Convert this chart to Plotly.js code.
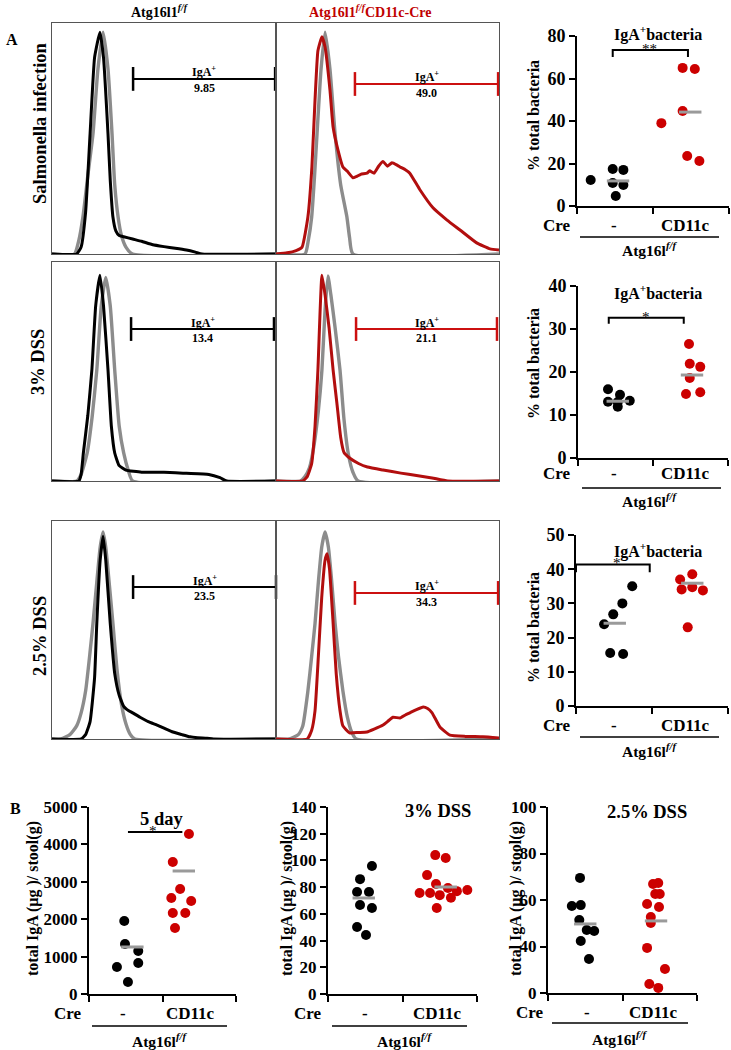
<!DOCTYPE html>
<html><head><meta charset="utf-8">
<script src="https://cdn.plot.ly/plotly-3.0.1.min.js"></script>
<style>html,body{margin:0;padding:0;background:#fff}#chart{width:731px;height:1050px}</style>
</head><body><div id="chart"></div>
<script>
// ---------- DATA: flow-cytometry histograms (x: fluorescence, 0-100; y: % of max) ----------
const salWtX = [0,11,13,15,17,19,21.4,23,25,26,27.2,28.5,30,32,36,40,45,50,55,60,64,67,100];
const salWtY = [0,0,3,18,52,85,96,85,52,32,16,10,8,7.5,6.5,5.5,4,3.2,2.5,1.7,0.8,0,0];
const salWtIsoX = [0,10,12,13.8,16,18.3,20.5,22.8,25,26.8,28,29.5,31,33,36,100];
const salWtIsoY = [0,0,6,16,34,52,80,96,80,52,30,16,8,3,0,0];
const salKoX = [0,5,9,11.7,14.3,16.1,17.5,18.8,20.6,22,24.2,25.6,27.8,30,31.8,34.5,36,38,40.8,42,44,46,48,50,52,54.3,56,58,60,64.6,70.4,76.7,82.5,90,96,100];
const salKoY = [0,0.5,1.5,3,16,37.7,66.7,88,94,89.6,71,55,45,37.7,36,33,33.5,34.5,35,36,35,38,40,38,39.5,38.5,37.5,36.5,35,27.7,20,14.7,10.4,4.8,2.2,1.7];
const salKoIsoX = [0,13,14.5,16,17.3,18.4,20.2,22,24.2,26.5,29,31.8,33,34.5,100];
const salKoIsoY = [0,0,6,16,34,52,80,96,80,52,30,16,7,0,0];

const dss3WtX = [0,12,13,14,16,17.8,19.5,21.4,23,25,26.5,28,30,33,40,50,60,70,75,78,100];
const dss3WtY = [0,0,3,12.8,30,50.7,80,94,80,50.7,25,12.8,7,5,4,4,3.5,3,1.5,0,0];
const dss3WtIsoX = [0,11,13,15.7,18,20,22,24,26,28,30,32,34,36,100];
const dss3WtIsoY = [0,0,3,12.8,30,50.7,80,93,80,50.7,25,12.8,5,0,0];
const dss3KoX = [0,12,14,16,17.5,18.8,20.6,22,23.8,25.6,27.3,29,30.5,33,37,41,48,56,63,70,77,100];
const dss3KoY = [0,0,2,8,25,50.7,94,85,70,50.7,35.6,20,13,10.5,8,6.4,5,3.6,2.5,1.4,0,0];
const dss3KoIsoX = [0,11,13,15,17,19,20.6,22,23.3,24.6,26.5,28.7,30.5,32.5,34.5,36.8,100];
const dss3KoIsoY = [0,0,2,6,16,32,50.7,78,93.6,85,70,50.7,28,12,4,0,0];

const dss25WtX = [0,13,15,17,19,20,21.5,22.8,24,26,28,30,32,33.5,36,39.3,43,46.9,50,54,58,61.6,65,69.2,72,100];
const dss25WtY = [0,0,2,8,28,53,82,93,82,53,30,20,15,13.5,12,10,8,6.4,5,3.2,2,1,0.6,0.4,0,0];
const dss25WtIsoX = [0,4,8,11,13,15,17,18.3,20,21.5,22.8,24,25.5,27.2,29,31,33,35,37,100];
const dss25WtIsoY = [0,0,2,6,12,22,40,53,72,88,95,88,72,53,32,16,7,2,0,0];
const dss25KoX = [0,14,16,17.5,19,20.5,22,22.9,24,25.5,27,28.7,30,33,37,40.8,44,48,50,52.5,55.6,58,60,63,66,68,70,73.5,78,85,92.8,100];
const dss25KoY = [0,0,4,13,38,65,82,85,78,55,30,13,6,2.8,3,3.2,4.5,6.4,8,10,9.6,11,12,13.5,14.7,14,12,5.5,1.8,1.2,1,0.5];
const dss25KoIsoX = [0,6,10,12,14.3,16,17.5,19,20.5,22,23.5,25,26.5,28,30,32,34,36,100];
const dss25KoIsoY = [0,0,2,6,22,38,53,72,88,95,88,72,53,38,22,10,3,0,0];

// IgA+ gates (fluorescence units) and gate percentages
const gateStart = [36.2, 35.4, 35.3, 35.9, 36.2, 35.4];
const gateEnd   = [99.6, 99.6, 99.1, 99.1, 100, 99.6];
const gateLevel = [75.8, 73.6, 69.4, 69.4, 69.7, 67];
const gateValues = ['9.85', '49.0', '13.4', '21.1', '23.5', '34.3'];

// ---------- DATA: % IgA+ bacteria ----------
const categories = ['-', 'CD11c'];
const salNeg = [12.2, 17.4, 17, 10.8, 9.9, 4.7];
const salNegJit = [-0.32, -0.03, 0.11, -0.03, 0.11, 0.01];
const salCre = [39, 65, 64.5, 44.7, 23.5, 21.2];
const salCreJit = [-0.39, -0.11, 0.05, -0.11, -0.05, 0.11];
const salMed = [11.8, 44.2];

const d3Neg = [16.0, 14.7, 13.1, 13.0, 13.3, 11.9];
const d3NegJit = [-0.1, 0.06, -0.1, 0.03, 0.19, 0.03];
const d3Cre = [26.5, 21.9, 21.2, 18.6, 14.9, 15.3];
const d3CreJit = [-0.02, -0.01, 0.13, -0.01, -0.06, 0.13];
const d3Med = [13.2, 19.3];

const d25Neg = [35, 30, 26.8, 23.9, 15.5, 15.2];
const d25NegJit = [0.24, 0.11, -0.01, -0.13, -0.05, 0.12];
const d25Cre = [37, 38.5, 34.1, 34.7, 33.8, 23];
const d25CreJit = [-0.13, 0.03, -0.11, 0.03, 0.17, -0.03];
const d25Med = [24.2, 35.9];

// ---------- DATA: total IgA (µg)/stool(g) ----------
const b5Neg = [1952, 1337, 1150, 722, 829, 321];
const b5NegJit = [-0.02, -0.01, 0.17, -0.12, 0.17, 0.03];
const b5Cre = [4278, 3529, 2807, 2567, 2487, 2166, 2166, 1765];
const b5CreJit = [-0.14, -0.36, -0.26, -0.38, -0.11, -0.36, -0.19, -0.33];
const b5Med = [1257, 3289];

const b3Neg = [95.8, 86, 76.4, 76.4, 66.6, 64.4, 50.2, 44.2];
const b3NegJit = [0.09, -0.07, -0.11, 0.05, -0.07, 0.09, -0.11, 0.01];
const b3Cre = [104, 101.8, 89, 82.4, 75.6, 75.6, 74, 77, 77.9, 72, 64.4, 79.4];
const b3CreJit = [-0.06, 0.08, -0.17, -0.05, -0.27, -0.13, 0, 0.23, 0.37, 0.15, -0.04, 0.11];
const b3Med = [71.9, 80.1];

// 2.5% DSS panel: the printed axis puts "0" one step below "40" (broken axis);
// values are kept on the printed grid where that lowest tick sits at 20.
const b25Neg = [69.5, 57.4, 57.8, 51.4, 47.1, 46.7, 42.4, 34.6];
const b25NegJit = [-0.07, -0.18, -0.06, -0.08, 0.02, 0.12, -0.06, 0.05];
const b25Cre = [67.3, 66.9, 62.6, 62.6, 58.3, 57, 52.7, 50.1, 39.4, 30.3, 23.9, 22.2];
const b25CreJit = [-0.02, -0.09, -0.06, 0, -0.17, -0.01, -0.12, -0.12, -0.17, 0.07, -0.14, -0.02];
const b25Med = [49.7, 51];
const b25TickVals = [20, 40, 60, 80, 100];
const b25TickText = ['0', '40', '60', '80', '100'];

// ---------- BUILD ----------
const W = 731, H = 1050;
const PX = v => v / W;
const PY = v => 1 - v / H;
const FONT = 'Liberation Serif, Times New Roman, serif';
const RED = '#cc0000', HRED = '#b20e0e', GRAY = '#8c8c8c';

const traces = [];
const layout = {
  width: W, height: H, autosize: false,
  margin: {l: 0, r: 0, t: 0, b: 0, pad: 0},
  paper_bgcolor: '#fff', plot_bgcolor: 'rgba(0,0,0,0)',
  showlegend: false, font: {family: FONT, color: '#000', size: 14},
  annotations: [], shapes: []
};
const aid = n => (n === 1 ? '' : String(n));

// histogram panels
const histPanels = [
  {n: 1, xd: [52, 276], yd: [23, 254], main: [salWtX, salWtY], iso: [salWtIsoX, salWtIsoY], col: '#000'},
  {n: 2, xd: [276, 499], yd: [23, 254], main: [salKoX, salKoY], iso: [salKoIsoX, salKoIsoY], col: HRED},
  {n: 3, xd: [52, 276], yd: [262, 481], main: [dss3WtX, dss3WtY], iso: [dss3WtIsoX, dss3WtIsoY], col: '#000'},
  {n: 4, xd: [276, 499], yd: [262, 481], main: [dss3KoX, dss3KoY], iso: [dss3KoIsoX, dss3KoIsoY], col: HRED},
  {n: 5, xd: [52, 276], yd: [521, 739], main: [dss25WtX, dss25WtY], iso: [dss25WtIsoX, dss25WtIsoY], col: '#000'},
  {n: 6, xd: [276, 499], yd: [521, 739], main: [dss25KoX, dss25KoY], iso: [dss25KoIsoX, dss25KoIsoY], col: HRED}
];
histPanels.forEach((p, i) => {
  const id = aid(p.n);
  layout['xaxis' + id] = {domain: [PX(p.xd[0]), PX(p.xd[1])], range: [0, 100], showline: true, mirror: true,
    linecolor: '#555', linewidth: 1, showticklabels: false, ticks: '', showgrid: false, zeroline: false, anchor: 'y' + id};
  layout['yaxis' + id] = {domain: [PY(p.yd[1]), PY(p.yd[0])], range: [0, 100], showline: true, mirror: true,
    linecolor: '#555', linewidth: 1, showticklabels: false, ticks: '', showgrid: false, zeroline: false, anchor: 'x' + id};
  traces.push({x: p.iso[0], y: p.iso[1], xaxis: 'x' + id, yaxis: 'y' + id, type: 'scatter', mode: 'lines',
    line: {color: GRAY, width: 3.4, shape: 'spline', smoothing: 0.5}, hoverinfo: 'skip'});
  traces.push({x: p.main[0], y: p.main[1], xaxis: 'x' + id, yaxis: 'y' + id, type: 'scatter', mode: 'lines',
    line: {color: p.col, width: 3, shape: 'spline', smoothing: 0.4}, hoverinfo: 'skip'});
  const gc = p.col === '#000' ? '#000' : '#cc1010';
  traces.push({x: [gateStart[i], gateEnd[i]], y: [gateLevel[i], gateLevel[i]], xaxis: 'x' + id, yaxis: 'y' + id,
    type: 'scatter', mode: 'lines+markers', cliponaxis: false, line: {color: gc, width: 2},
    marker: {symbol: 'line-ns', size: 17, color: gc, line: {color: gc, width: 2.5}}, hoverinfo: 'skip'});
  const midPx = p.xd[0] + (gateStart[i] + gateEnd[i]) / 2 / 100 * (p.xd[1] - p.xd[0]);
  const gyPx = p.yd[1] - gateLevel[i] / 100 * (p.yd[1] - p.yd[0]);
  layout.annotations.push({text: '<b>IgA<sup>+</sup></b>', x: PX(midPx), y: PY(gyPx - 7), xref: 'paper', yref: 'paper',
    showarrow: false, xanchor: 'center', yanchor: 'middle', font: {family: FONT, size: 12, color: '#000'}});
  layout.annotations.push({text: '<b>' + gateValues[i] + '</b>', x: PX(midPx), y: PY(gyPx + 9), xref: 'paper', yref: 'paper',
    showarrow: false, xanchor: 'center', yanchor: 'middle', font: {family: FONT, size: 12, color: '#000'}});
});

// dot plots
const dotPanels = [
  {n: 7, xd: [577, 729], yd: [36, 206], range: [0, 80], dtick: 20, neg: [salNeg, salNegJit], cre: [salCre, salCreJit], med: salMed, mo: [0.04, -0.01], tsize: 18,
   sig: {x0: -0.03, x1: 0.96, y: 73.4, d: 3.3, t: '**', tx: 0.46}},
  {n: 8, xd: [578, 728], yd: [286, 458], range: [0, 40], dtick: 10, neg: [d3Neg, d3NegJit], cre: [d3Cre, d3CreJit], med: d3Med, mo: [0.03, 0.02], tsize: 18,
   sig: {x0: -0.09, x1: 0.91, y: 32.6, d: 1.4, t: '*', tx: 0.41}},
  {n: 9, xd: [576, 728], yd: [535, 706], range: [0, 50], dtick: 10, neg: [d25Neg, d25NegJit], cre: [d25Cre, d25CreJit], med: d25Med, mo: [0.01, 0.03], tsize: 18,
   sig: {x0: -0.5, x1: 0.47, y: 41.4, d: 2.3, t: '*', tx: 0.04}},
  {n: 10, xd: [89, 236], yd: [807, 994], range: [0, 5000], dtick: 1000, neg: [b5Neg, b5NegJit], cre: [b5Cre, b5CreJit], med: b5Med, mo: [0.09, -0.21], tsize: 17,
   sig: {x0: 0.03, x1: 0.77, y: 4332, d: 0, t: '*', tx: 0.37}},
  {n: 11, xd: [328, 477], yd: [807, 994], range: [0, 140], dtick: 20, neg: [b3Neg, b3NegJit], cre: [b3Cre, b3CreJit], med: b3Med, mo: [-0.02, 0.08], tsize: 17},
  {n: 12, xd: [548, 697], yd: [807, 993], range: [20, 100], tickvals: b25TickVals, ticktext: b25TickText, neg: [b25Neg, b25NegJit], cre: [b25Cre, b25CreJit], med: b25Med, mo: [0.0, -0.05], tsize: 17}
];
dotPanels.forEach(p => {
  const id = aid(p.n);
  layout['xaxis' + id] = {domain: [PX(p.xd[0]), PX(p.xd[1])], range: [-0.5, 1.5], showline: true, linewidth: 2, linecolor: '#000',
    ticks: 'outside', ticklen: 6, tickwidth: 2, tickcolor: '#000', tickvals: [-0.5, 0.5, 1.5], showticklabels: false,
    showgrid: false, zeroline: false, anchor: 'y' + id};
  const ya = {domain: [PY(p.yd[1]), PY(p.yd[0])], range: p.range, showline: true, linewidth: 2, linecolor: '#000',
    ticks: 'outside', ticklen: 6, tickwidth: 2, tickcolor: '#000', showgrid: false, zeroline: false, anchor: 'x' + id,
    tickfont: {family: FONT, size: p.tsize, color: '#000', weight: 700}};
  if (p.tickvals) { ya.tickmode = 'array'; ya.tickvals = p.tickvals; ya.ticktext = p.ticktext.map(t => '<b>' + t + '</b>'); }
  else {
    ya.tickmode = 'array';
    const tv = [];
    for (let v = p.range[0]; v <= p.range[1] + 1e-9; v += p.dtick) tv.push(v);
    ya.tickvals = tv; ya.ticktext = tv.map(v => '<b>' + v + '</b>');
  }
  layout['yaxis' + id] = ya;
  traces.push({x: p.neg[0].map((v, i) => 0 + p.neg[1][i]), y: p.neg[0], xaxis: 'x' + id, yaxis: 'y' + id, type: 'scatter',
    mode: 'markers', cliponaxis: false, marker: {size: 10, color: '#000'}, name: categories[0], hoverinfo: 'y'});
  traces.push({x: p.cre[0].map((v, i) => 1 + p.cre[1][i]), y: p.cre[0], xaxis: 'x' + id, yaxis: 'y' + id, type: 'scatter',
    mode: 'markers', cliponaxis: false, marker: {size: 10, color: RED}, name: categories[1], hoverinfo: 'y'});
  traces.push({x: [0 + p.mo[0], 1 + p.mo[1]], y: p.med, xaxis: 'x' + id, yaxis: 'y' + id, type: 'scatter', mode: 'markers',
    cliponaxis: false, marker: {symbol: 'line-ew', size: 16, color: '#9a9a9a', line: {color: '#9a9a9a', width: 3}}, hoverinfo: 'skip'});
  if (p.sig) {
    const s = p.sig;
    traces.push({x: [s.x0, s.x0, s.x1, s.x1], y: [s.y - s.d, s.y, s.y, s.y - s.d], xaxis: 'x' + id, yaxis: 'y' + id,
      type: 'scatter', mode: 'lines', cliponaxis: false, line: {color: '#000', width: 2}, hoverinfo: 'skip'});
    layout.annotations.push({text: s.t, x: s.tx, y: s.y, xref: 'x' + id, yref: 'y' + id, showarrow: false,
      xanchor: 'center', yanchor: 'middle', yshift: 1, font: {family: FONT, size: 15, color: '#000'}});
  }
});

// text annotations (pixel-placed)
function ann(text, x, y, size, extra) {
  layout.annotations.push(Object.assign({text: text, x: PX(x), y: PY(y), xref: 'paper', yref: 'paper', showarrow: false,
    xanchor: 'center', yanchor: 'middle', font: {family: FONT, size: size, color: '#000'}}, extra || {}));
}
const B = t => '<b>' + t + '</b>';
const ATG = B('Atg16l<sup><i>f/f</i></sup>');
ann(B('A'), 12, 40, 16);
ann(B('B'), 15, 808, 16);
ann(B('Atg16l1<sup><i>f/f</i></sup>'), 160, 11, 14);
ann(B('Atg16l1<sup><i>f/f</i></sup>CD11c-Cre'), 370, 11, 14, {font: {family: FONT, size: 14, color: '#c00000'}});
ann(B('Salmonella infection'), 40, 123, 18.5, {textangle: -90});
ann(B('3% DSS'), 38, 362, 18.5, {textangle: -90});
ann(B('2.5% DSS'), 40, 636, 18.5, {textangle: -90});

// A dot-plot labels
[[33, 116, 225, 237, 249, 580, 719], [292, 364, 474, 488, 500, 582, 721], [550, 628, 725, 737, 750, 580, 719]].forEach(r => {
  ann(B('IgA<sup>+</sup>bacteria'), 658, r[0], 16);
  ann(B('% total bacteria'), 533, r[1], 16, {textangle: -90});
  ann(B('Cre'), 557, r[2], 17);
  ann(B('-'), 614, r[2], 17);
  ann(B('CD11c'), 685, r[2], 17);
  ann(ATG, 650, r[4], 15.5);
  layout.shapes.push({type: 'line', xref: 'paper', yref: 'paper', x0: PX(r[5]), x1: PX(r[6]), y0: PY(r[3]), y1: PY(r[3]),
    line: {color: '#000', width: 1.5}});
});

// B dot-plot labels
[
  {title: '5 day', tx: 161, ty: 819, yt: 33, cre: 68, neg: 123, cd: 190, atg: 160, u0: 92, u1: 227, cy: 1013, uy: 1026, ay: 1040},
  {title: '3% DSS', tx: 438, ty: 811, yt: 287, cre: 308, neg: 365, cd: 437, atg: 405, u0: 332, u1: 467, cy: 1013, uy: 1026, ay: 1040},
  {title: '2.5% DSS', tx: 647, ty: 812, yt: 516, cre: 530, neg: 587, cd: 653, atg: 620, u0: 552, u1: 688, cy: 1012, uy: 1023, ay: 1038}
].forEach(r => {
  ann(B(r.title), r.tx, r.ty, 18.5);
  ann(B('total IgA (µg )/ stool(g)'), r.yt, 899, 16, {textangle: -90});
  ann(B('Cre'), r.cre, r.cy, 17);
  ann(B('-'), r.neg, r.cy, 17);
  ann(B('CD11c'), r.cd, r.cy, 17);
  ann(ATG, r.atg, r.ay, 15.5);
  layout.shapes.push({type: 'line', xref: 'paper', yref: 'paper', x0: PX(r.u0), x1: PX(r.u1), y0: PY(r.uy), y1: PY(r.uy),
    line: {color: '#000', width: 1.5}});
});

traces.forEach(t => { t.showlegend = false; });
Plotly.newPlot('chart', traces, layout, {staticPlot: true, displayModeBar: false});
</script></body></html>
